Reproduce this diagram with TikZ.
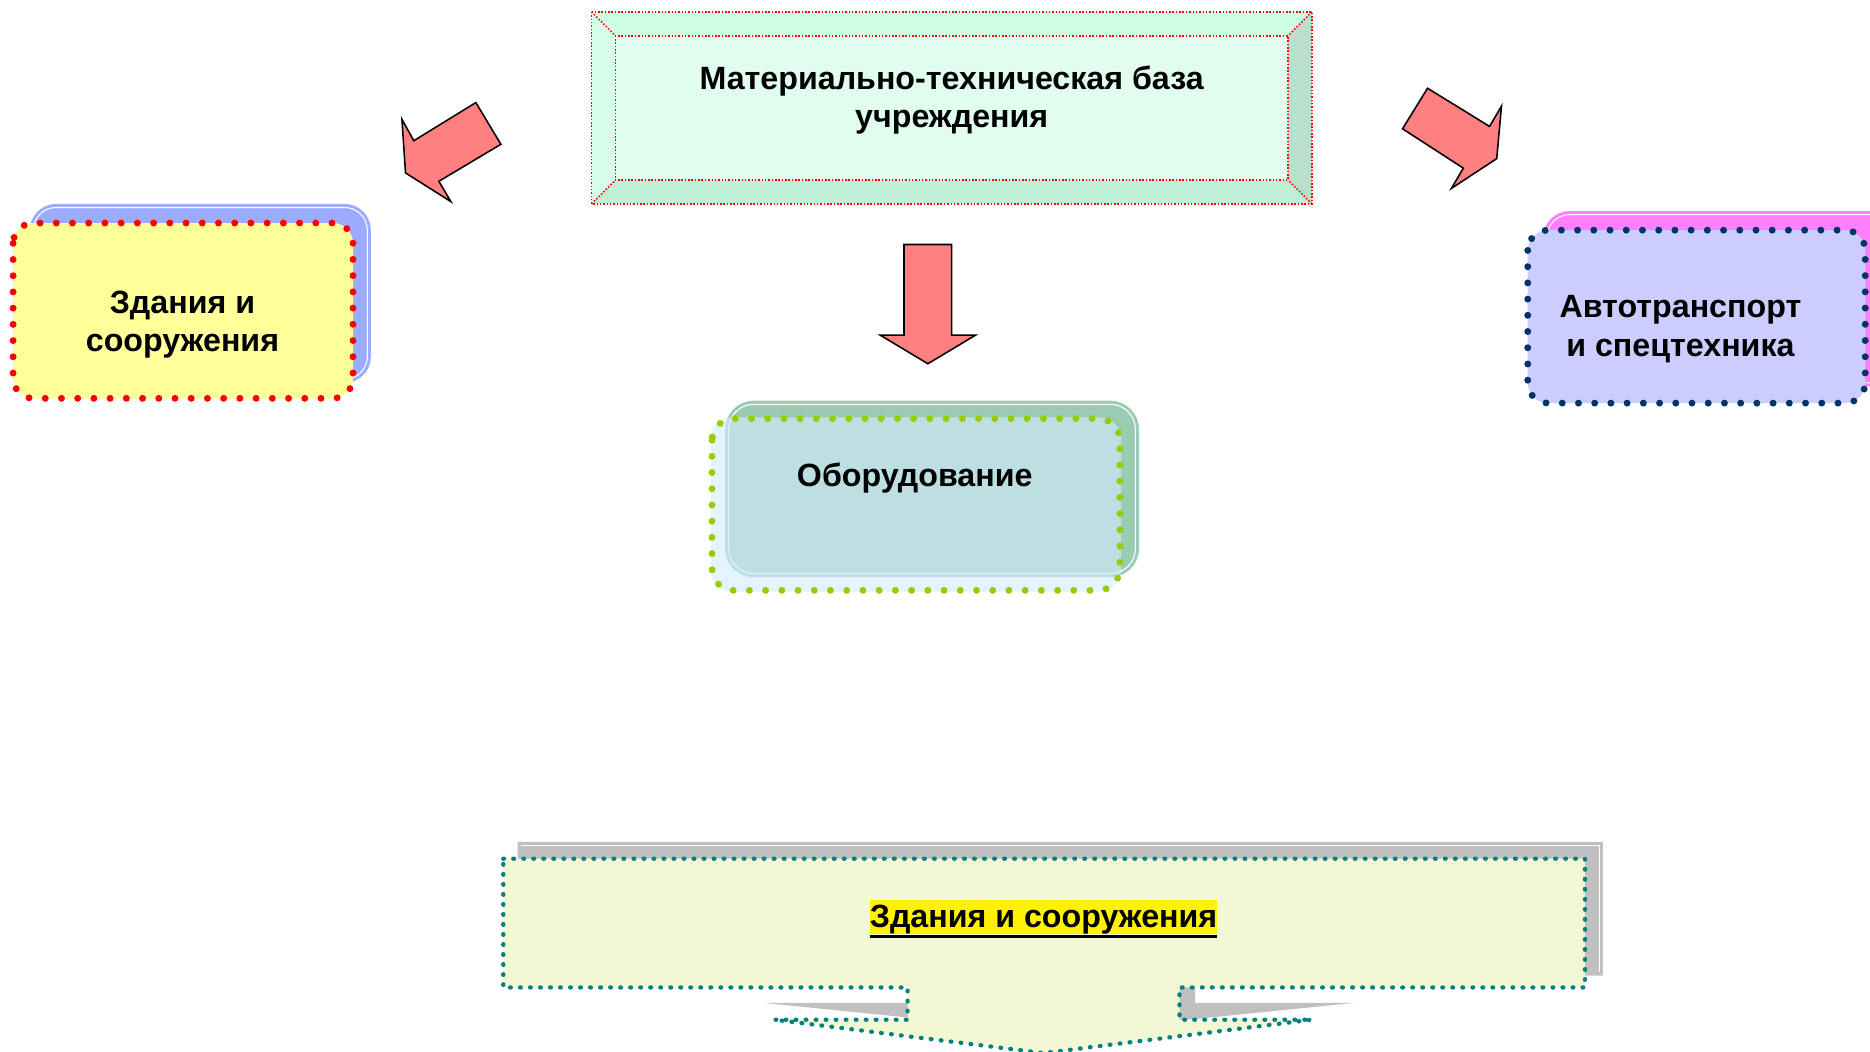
\documentclass[tikz,border=0pt]{standalone}
\usepackage{fontspec}
\setmainfont{Liberation Sans}
\definecolor{arrowpink}{HTML}{FF8080}
\definecolor{bluebk}{HTML}{9BACFF}
\definecolor{yellowfr}{HTML}{FFFF99}
\definecolor{magbk}{HTML}{FF80FF}
\definecolor{lavfr}{HTML}{CCCCFF}
\definecolor{navydot}{HTML}{003366}
\definecolor{greenbk}{HTML}{9ACCB4}
\definecolor{bluefr}{HTML}{D3ECFF}
\definecolor{limedot}{HTML}{99CC00}
\definecolor{callfill}{HTML}{F1F8D3}
\definecolor{tealdot}{HTML}{008080}
\definecolor{shadowgray}{HTML}{C0C0C0}
\definecolor{bevtop}{HTML}{CCFFE6}
\definecolor{bevleft}{HTML}{D6FDEA}
\definecolor{bevbottom}{HTML}{BFF0D7}
\definecolor{bevright}{HTML}{B9E0CC}
\definecolor{bevinner}{HTML}{E1FDEF}
\tikzset{
  blockarrow/.style={fill=arrowpink, draw=black, line width=1.3, line join=miter},
  bigdots/.style={line width=5.8, line cap=round, dash pattern=on 0pt off 13.6pt},
  smalldots/.style={draw=tealdot, line width=3.6, line cap=round, dash pattern=on 0.6pt off 7.8pt},
  reddotline/.style={draw=red, line width=1.3, dash pattern=on 1.3pt off 1.5pt},
  boxtext/.style={align=center, inner sep=0pt},
  whiteline/.style={draw=white, line width=0.9}
}
\begin{document}
\begin{tikzpicture}[x=1pt,y=-1pt, font=\fontsize{27}{32}\selectfont\bfseries]
\useasboundingbox (0,0) rectangle (1568,882);

% ---------- top bevel box ----------
\fill[bevtop] (496,10) -- (1100,10) -- (1080,30) -- (516,30) -- cycle;
\fill[bevleft] (496,10) -- (516,30) -- (516,151) -- (496,171) -- cycle;
\fill[bevbottom] (496,171) -- (516,151) -- (1080,151) -- (1100,171) -- cycle;
\fill[bevright] (1100,10) -- (1100,171) -- (1080,151) -- (1080,30) -- cycle;
\fill[bevinner] (516,30) rectangle (1080,151);
\draw[reddotline] (496,10) rectangle (1100,171);
\draw[reddotline] (516,30) rectangle (1080,151);
\draw[reddotline] (496,10) -- (516,30);
\draw[reddotline] (1100,10) -- (1080,30);
\draw[reddotline] (496,171) -- (516,151);
\draw[reddotline] (1100,171) -- (1080,151);
\node[boxtext] (mtb) at (798,84) {Материально-техническая база\\учреждения};

% ---------- block arrows ----------
\draw[blockarrow] (399,86) -- (420,121) -- (368,152) -- (378,169) -- (340,145) -- (337,100) -- (347,118) -- cycle;
\draw[blockarrow] (1197,74) -- (1249,106) -- (1259,89) -- (1255,133) -- (1217,158) -- (1227,141) -- (1176,108) -- cycle;
\draw[blockarrow] (758,205) -- (798,205) -- (798,281) -- (818,281) -- (778,305) -- (738,281) -- (758,281) -- cycle;

% ---------- left box ----------
\fill[bluebk, rounded corners=22] (25,171) rectangle (311,321);
\draw[whiteline, rounded corners=19] (28,174) rectangle (308,318);
\fill[yellowfr, rounded corners=17] (11,187) rectangle (296,334);
\draw[bigdots, draw=red, rounded corners=17] (11,187) rectangle (296,334);
\node[boxtext] (zs) at (153,272) {Здания и\\сооружения};

% ---------- right box ----------
\fill[magbk, rounded corners=22] (1294,177) rectangle (1600,324);
\draw[whiteline, rounded corners=19] (1297,180) rectangle (1600,321);
\fill[lavfr, rounded corners=17] (1281,193) rectangle (1564,338);
\draw[bigdots, draw=navydot, rounded corners=17] (1281,193) rectangle (1564,338);
\node[boxtext] (avt) at (1409,276) {Автотранспорт\\и спецтехника};

% ---------- middle box ----------
\fill[greenbk, rounded corners=24] (608,336) rectangle (955,484);
\draw[whiteline, rounded corners=21] (611,339) rectangle (952,481);
\fill[bluefr, fill opacity=0.62, rounded corners=18] (596,350) rectangle (940,496);
\draw[bigdots, draw=limedot, rounded corners=18] (597,351) rectangle (939,495);
\node[boxtext] (obo) at (767,401) {Оборудование};

% ---------- bottom callout ----------
\fill[shadowgray] (434,706) -- (1344,706) -- (1344,818) -- (1002,818) -- (1002,841) -- (1135,841) -- (888,866) -- (641,841) -- (774,841) -- (774,818) -- (434,818) -- cycle;
\draw[whiteline] (437,709) -- (1341,709) -- (1341,815);
\draw[whiteline] (1005,838) -- (1130,838);
\draw[whiteline] (770,838) -- (650,838);
\fill[callfill] (422,720) -- (1329,720) -- (1329,828) -- (989,828) -- (989,855) -- (1100,855) -- (875,883) -- (649,855) -- (761,855) -- (761,828) -- (422,828) -- cycle;
\draw[smalldots] (422,720) -- (1329,720) -- (1329,828) -- (989,828) -- (989,855) -- (1100,855) -- (875,883) -- (649,855) -- (761,855) -- (761,828) -- (422,828) -- cycle;
\node[fill=yellow, inner xsep=0pt, inner ysep=0pt, text height=23pt, text depth=6pt] (zsb) at (875,769) {Здания и сооружения};
\draw[line width=2.4] ([yshift=-1.2pt]zsb.south west) -- ([yshift=-1.2pt]zsb.south east);
\end{tikzpicture}
\end{document}
